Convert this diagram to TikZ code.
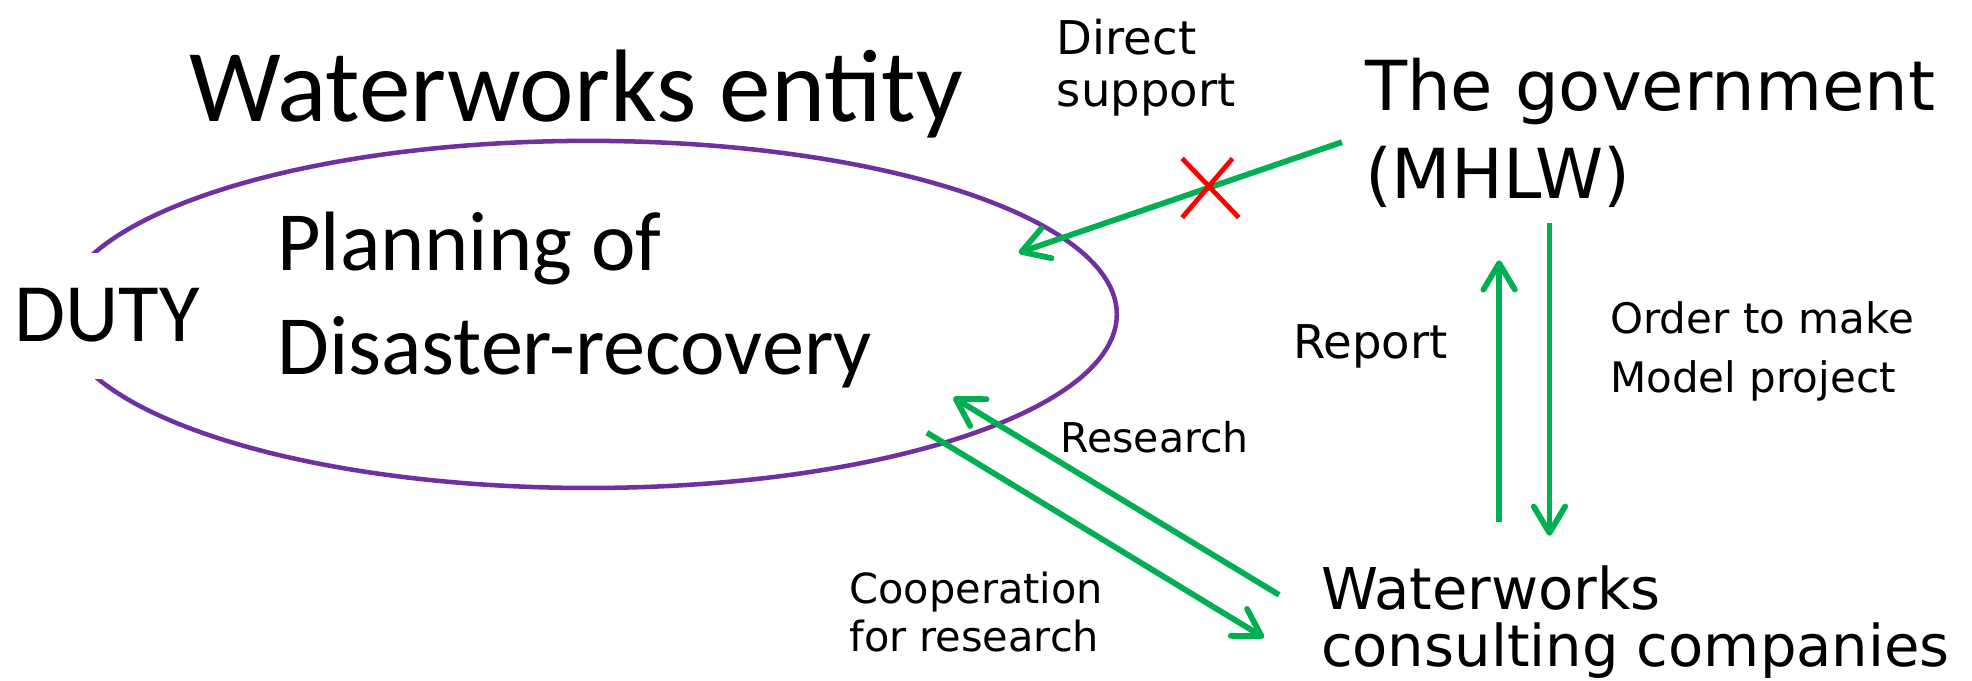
\documentclass[tikz,border=0pt]{standalone}
\usepackage{fontspec}
\setmainfont{Carlito}
\newfontfamily\vfont{DejaVu Sans}
\usetikzlibrary{arrows.meta}
\definecolor{mygreen}{RGB}{0,176,80}
\definecolor{mypurple}{RGB}{112,48,160}
\definecolor{myred}{RGB}{255,0,0}
\tikzset{arrow/.style={mygreen, line width=2.3pt, -{Straight Barb[length=10.5pt,width=12.5pt,round]}}}

\begin{document}
\begin{tikzpicture}[x=0.5pt,y=-0.5pt, txt/.style={inner sep=0pt, anchor=base west, align=left}]
            \useasboundingbox (0,0) rectangle (1568,540.7);
            % entity and duty
            \node[txt, font=\fontsize{41}{48}\selectfont] (entity) at (150,97) {Waterworks entity};
            \draw [color=mypurple, line width=1.8pt] (468,250) ellipse [x radius=420, y radius=138];
            \node[txt, font=\fontsize{33.5}{41.5}\selectfont] (plan) at (220,298) {Planning of\\Disaster-recovery};
            \node[fill=white, inner sep=0pt, minimum height=50pt, font=\fontsize{33}{40}\selectfont] (duty) at (85,251) {DUTY};
            % government and companies
            \node[txt, font=\vfont\fontsize{27.4}{35}\selectfont] (gov) at (1085,158) {The government\\(MHLW)};
            \node[txt, font=\vfont\fontsize{22.9}{22.5}\selectfont] (cons) at (1050,530) {Waterworks\\consulting companies};
            % labels
            \node[txt, font=\vfont\fontsize{18.5}{21}\selectfont] (direct) at (840,85) {Direct\\support};
            \node[txt, font=\vfont\fontsize{18.5}{21}\selectfont] (report) at (1028,285) {Report};
            \node[txt, font=\vfont\fontsize{16.7}{23.5}\selectfont] (order) at (1280,312) {Order to make\\Model project};
            \node[txt, font=\vfont\fontsize{16.3}{19}\selectfont] (research) at (843,360) {Research};
            \node[txt, font=\vfont\fontsize{16.5}{19}\selectfont] (coop) at (675,518) {Cooperation\\for research};
            % arrows
            \coordinate (gov-out) at (1067,113);
            \coordinate (plan-in) at (810,201);
            \coordinate (report-from) at (1192,415);
            \coordinate (report-to) at (1192,207);
            \coordinate (order-from) at (1232,177);
            \coordinate (order-to) at (1232,426);
            \coordinate (research-from) at (1017,473);
            \coordinate (research-to) at (758,316);
            \coordinate (coop-from) at (737,344);
            \coordinate (coop-to) at (1005,507);
            \draw [arrow] (gov-out) -- (plan-in);
            \draw [arrow] (report-from) -- (report-to);
            \draw [arrow] (order-from) -- (order-to);
            \draw [arrow] (research-from) -- (research-to);
            \draw [arrow] (coop-from) -- (coop-to);
            % no direct support
            \coordinate (cross) at (962,150);
            \draw [color=myred, line width=1.9pt] (cross) +(-22,-24) -- +(23,23) (cross) +(18,-24) -- +(-22,23);
        \end{tikzpicture}
\end{document}
